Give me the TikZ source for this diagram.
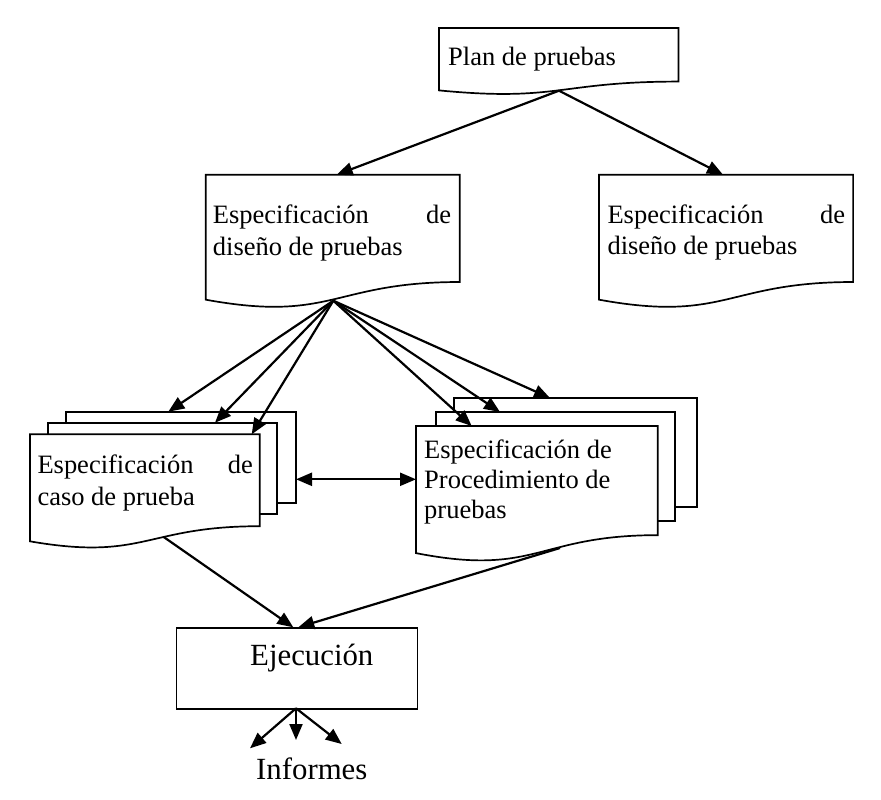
\documentclass[tikz,border=0pt]{standalone}
\usepackage{fontspec}
\setmainfont{Liberation Serif}
\usetikzlibrary{arrows.meta,calc}
\newcommand\docshape[1]{%
  \draw[boxline,fill=white] (#1.north west) -- (#1.north east)
    -- ($(#1.north east)!0.802!(#1.south east)$)
    .. controls ($(#1.north)!0.802!(#1.south)$) and ($(#1.north)!1.1075!(#1.south)$)
    .. ($(#1.north west)!0.934!(#1.south west)$) -- cycle;}
\begin{document}
\begin{tikzpicture}[x=1pt,y=-1pt,
  boxline/.style={line width=1.7pt,line join=miter},
  docnode/.style={draw=none,inner sep=0pt,anchor=north west},
  sheet/.style={draw,line width=1.7pt,fill=white},
  conn/.style={line width=2.2pt,-{Triangle[length=16pt,width=13pt]}},
  biconn/.style={line width=2.2pt,{Triangle[length=16pt,width=13pt]}-{Triangle[length=16pt,width=13pt]}},
  txt/.style={anchor=base west,inner sep=0pt,font=\fontsize{26.5}{31.7}\selectfont},
  bigtxt/.style={anchor=base west,inner sep=0pt,font=\fontsize{30.8}{36}\selectfont}]
\useasboundingbox (0,0) rectangle (881,800);

% Plan de pruebas
\node[docnode,minimum width=239pt,minimum height=66.4pt] (plan) at (439,28) {};
\docshape{plan}
\node[txt] (plantxt) at (448,66) {Plan de pruebas};

% Design specs
\node[docnode,minimum width=253.6pt,minimum height=133.4pt] (dl) at (205.7,174.7) {};
\docshape{dl}
\node[txt] (dltxt) at (212.7,223.3) {\parbox[t]{238.3pt}{\fontsize{26.5}{31.7}\selectfont\noindent\hbox to 238.3pt{Especificación\hfill de}\par\noindent diseño de pruebas}};

\node[docnode,minimum width=253.7pt,minimum height=133.4pt] (dr) at (599,174.7) {};
\docshape{dr}
\node[txt] (drtxt) at (607.3,223.3) {\parbox[t]{237.7pt}{\fontsize{26.5}{31.2}\selectfont\noindent\hbox to 237.7pt{Especificación\hfill de}\par\noindent diseño de pruebas}};

% Test case stack
\path[sheet] (66,411.7) rectangle (296,502.7);
\path[sheet] (48.3,422.7) rectangle (276.7,514);
\coordinate (caseback) at (168.3,411.7);
\coordinate (casemid) at (215,422.7);
\coordinate (casefront) at (251.7,434.3);
\coordinate (caseright) at (296,479.3);
\node[docnode,minimum width=229.3pt,minimum height=114.2pt] (case) at (30,434.3) {};
\docshape{case}
\node[txt] (casetxt) at (37.3,473.3) {\parbox[t]{215.4pt}{\fontsize{26.5}{31.7}\selectfont\noindent\hbox to 215.4pt{Especificación\hfill de}\par\noindent caso de prueba}};
\coordinate (caseout) at (163.3,536.7);

% Procedure stack
\path[sheet] (454.3,398) rectangle (696.7,507.3);
\path[sheet] (436,412) rectangle (675.3,521);
\coordinate (procback) at (550,398);
\coordinate (procmid) at (500,412);
\coordinate (procfront) at (471.7,426);
\node[docnode,minimum width=241.3pt,minimum height=135.7pt] (proc) at (416,426) {};
\docshape{proc}
\coordinate (procleft) at (416,479.3);
\node[txt] (proctxt) at (424,458.3) {\parbox[t]{240pt}{\fontsize{26.5}{30}\selectfont\noindent Especificación de\par\noindent Procedimiento de\par\noindent pruebas}};
\coordinate (procout) at (560,548);

% Ejecucion
\node[draw,line width=1.7pt,inner sep=0pt,anchor=north west,minimum width=241pt,minimum height=81pt] (ejec) at (175.7,627.3) {};
\node[bigtxt] (ejectxt) at (250,665) {Ejecución};
\coordinate (ejecin1) at (293.3,627.3);
\coordinate (ejecin2) at (298.3,627.3);
\coordinate (ejecout) at (296,708.3);
\coordinate (inf1) at (250,748.3);
\coordinate (inf2) at (296,740);
\coordinate (inf3) at (341.7,744);
\node[bigtxt] (informes) at (256,779.3) {Informes};

% Connectors
\coordinate (planout) at (559,90.7);
\coordinate (dlin) at (336.7,174.7);
\coordinate (drin) at (723,174.7);
\coordinate (dlout) at (333.3,300.7);
\draw[conn] (planout) -- (dlin);
\draw[conn] (planout) -- (drin);
\draw[conn] (dlout) -- (caseback);
\draw[conn] (dlout) -- (casemid);
\draw[conn] (dlout) -- (casefront);
\draw[conn] (dlout) -- (procfront);
\draw[conn] (dlout) -- (procmid);
\draw[conn] (dlout) -- (procback);
\draw[biconn] (caseright) -- (procleft);
\draw[conn] (caseout) -- (ejecin1);
\draw[conn] (procout) -- (ejecin2);
\draw[conn] (ejecout) -- (inf1);
\draw[conn] (ejecout) -- (inf2);
\draw[conn] (ejecout) -- (inf3);
\end{tikzpicture}
\end{document}
